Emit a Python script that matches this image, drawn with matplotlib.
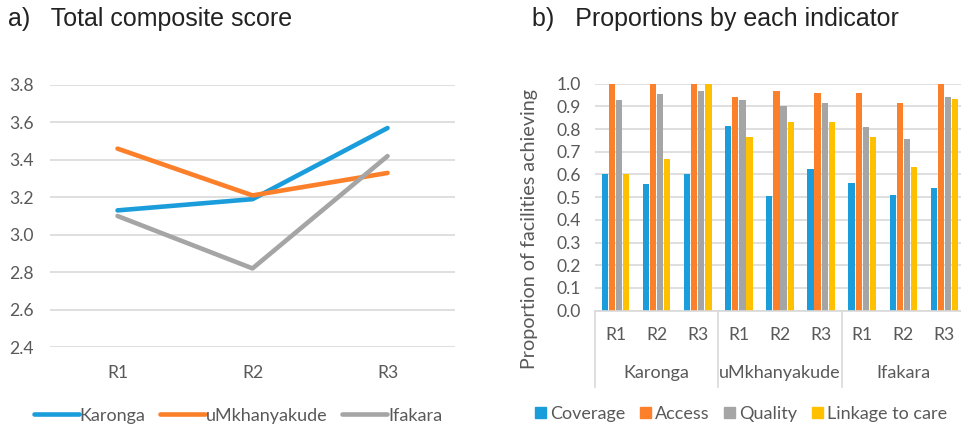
import matplotlib.pyplot as plt
from matplotlib.lines import Line2D
from matplotlib.patches import Patch

# panel a) total composite score per round
rounds = ['R1', 'R2', 'R3']
karonga = [3.13, 3.19, 3.57]
umkhanyakude = [3.46, 3.21, 3.33]
ifakara = [3.10, 2.82, 3.42]

# panel b) proportions by indicator, sites x rounds
sites = ['Karonga', 'uMkhanyakude', 'Ifakara']
coverage = [0.60, 0.56, 0.60, 0.815, 0.505, 0.625, 0.563, 0.51, 0.54]
access = [1.0, 1.0, 1.0, 0.94, 0.97, 0.957, 0.957, 0.915, 1.0]
quality = [0.93, 0.955, 0.97, 0.93, 0.90, 0.913, 0.808, 0.757, 0.94]
linkage = [0.60, 0.667, 1.0, 0.765, 0.833, 0.833, 0.765, 0.632, 0.933]

blue = '#1b9ddb'
orange = '#fc7f2a'
grey = '#a5a5a5'
yellow = '#ffc000'
txt = '#595959'
gridc = '#d9d9d9'

plt.rcParams['font.family'] = ['Lato', 'DejaVu Sans']

fig = plt.figure(figsize=(9.62, 4.26), dpi=100)

### a) line chart
ax1 = fig.add_axes([0.052, 0.1854, 0.421, 0.6151])
xs = [0.5, 1.5, 2.5]
ax1.plot(xs, karonga, color=blue, linewidth=3.3, solid_capstyle='round', label='Karonga')
ax1.plot(xs, umkhanyakude, color=orange, linewidth=3.3, solid_capstyle='round', label='uMkhanyakude')
ax1.plot(xs, ifakara, color=grey, linewidth=3.3, solid_capstyle='round', label='Ifakara')
ax1.set_xlim(0, 3)
ax1.set_ylim(2.4, 3.8)
ax1.set_yticks([2.4, 2.6, 2.8, 3.0, 3.2, 3.4, 3.6, 3.8])
ax1.set_yticklabels([f'{v:.1f}' for v in ax1.get_yticks()])
ax1.set_xticks(xs)
ax1.set_xticklabels(rounds)
ax1.grid(True, axis='y', color=gridc, linewidth=1.2)
ax1.set_axisbelow(True)
for s in ax1.spines.values():
    s.set_visible(False)
ax1.tick_params(axis='both', length=0, labelsize=12.6, colors=txt)
ax1.tick_params(axis='y', pad=12)
ax1.tick_params(axis='x', pad=13)
ax1.legend(loc='center', bbox_to_anchor=(0.464, -0.262), ncol=3, frameon=False,
           fontsize=13, labelcolor=txt, handlelength=2.5, handletextpad=0.05,
           columnspacing=0.8)
fig.text(0.008, 0.955, 'a)   Total composite score', fontsize=18,
         family='Liberation Sans', color='#222222', va='center')

### b) clustered bars
ax2 = fig.add_axes([0.6185, 0.2707, 0.3846, 0.5328])
n = len(coverage)
cx = [i + 0.5 for i in range(n)]
w = 0.153
step = 0.173
for j, (vals, col, lab) in enumerate([(coverage, blue, 'Coverage'), (access, orange, 'Access'),
                                      (quality, grey, 'Quality'), (linkage, yellow, 'Linkage to care')]):
    ax2.bar([c + (j - 1.5) * step for c in cx], vals, width=w, color=col, label=lab)
ax2.set_xlim(0, n)
ax2.set_ylim(0, 1.0)
ax2.set_yticks([i / 10 for i in range(11)])
ax2.set_yticklabels([f'{i / 10:.1f}' for i in range(11)])
ax2.set_xticks(cx)
ax2.set_xticklabels(rounds * 3)
ax2.grid(True, axis='y', color=gridc, linewidth=1.2)
ax2.set_axisbelow(True)
for s in ['top', 'right', 'left']:
    ax2.spines[s].set_visible(False)
ax2.spines['bottom'].set_color(gridc)
ax2.spines['bottom'].set_linewidth(1.2)
ax2.tick_params(axis='both', length=0, labelsize=12.6, colors=txt)
ax2.tick_params(axis='y', pad=10)
ax2.tick_params(axis='x', pad=12)
ax2.set_ylabel('Proportion of facilities achieving', fontsize=14.2, color=txt)
ax2.yaxis.set_label_coords(-0.155, 0.36)
trans = ax2.get_xaxis_transform()
for k, site in enumerate(sites):
    ax2.text(3 * k + 1.5, -0.275, site, transform=trans, ha='center', va='center',
             fontsize=13, color=txt)
for k in range(4):
    ax2.add_line(Line2D([3 * k, 3 * k], [0, -0.336], transform=trans, color=gridc,
                        linewidth=1.2, clip_on=False))
handles = [Patch(color=c) for c in [blue, orange, grey, yellow]]
ax2.legend(handles, ['Coverage', 'Access', 'Quality', 'Linkage to care'], loc='center',
           bbox_to_anchor=(0.395, -0.455), ncol=4, frameon=False, fontsize=13,
           labelcolor=txt, handlelength=0.6, handleheight=0.6, handletextpad=0.25,
           columnspacing=0.8)
fig.text(0.553, 0.955, 'b)   Proportions by each indicator', fontsize=18,
         family='Liberation Sans', color='#222222', va='center')

plt.savefig('out.png', dpi=100)
